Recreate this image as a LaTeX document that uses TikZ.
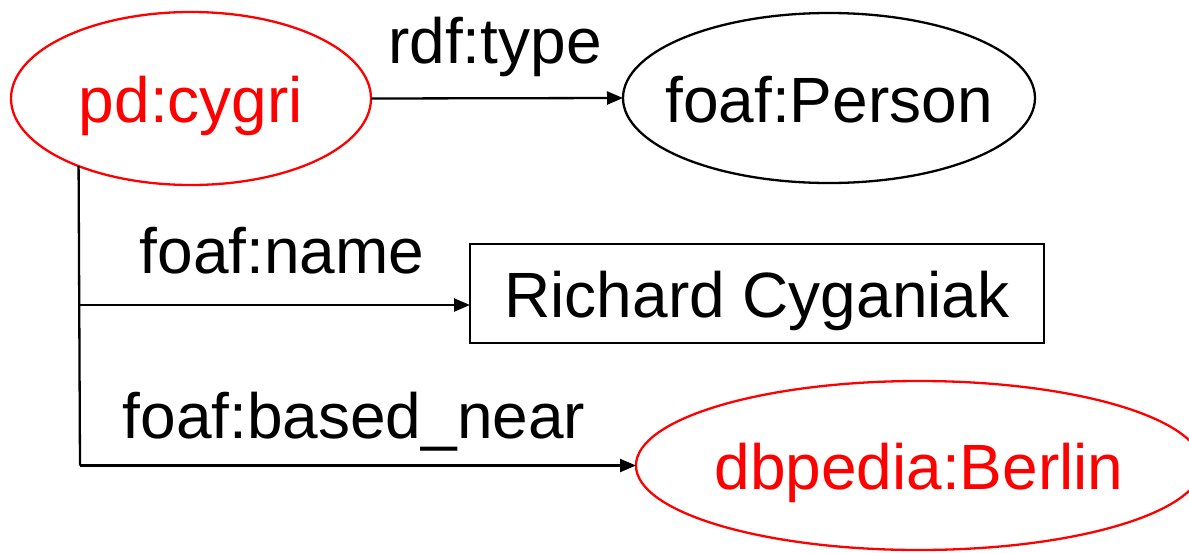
\documentclass[tikz,border=0pt]{standalone}
\usepackage{fontspec}
\setmainfont{Liberation Sans}
\usetikzlibrary{shapes.geometric,arrows.meta}
\definecolor{resred}{RGB}{255,0,0}
\begin{document}
\begin{tikzpicture}[x=1pt,y=-1pt,
  every node/.style={font=\fontsize{64}{70}\selectfont, inner sep=0pt, outer sep=0pt,
    text height=56pt, text depth=8pt},
  res/.style={ellipse, draw, line width=2.3pt},
  lit/.style={rectangle, draw, line width=2.3pt, minimum width=574pt, minimum height=99pt},
  prop/.style={anchor=base, text height=, text depth=},
  link/.style={line width=2.3pt, -{Triangle[length=16pt,width=13pt]}},
  trunk/.style={line width=2.3pt}]
  \useasboundingbox (0,0) rectangle (1189,552);
  \clip (0,0) rectangle (1189,552);

  % resources and literal
  \node[res, draw=resred, text=resred, minimum width=360pt, minimum height=173pt]
    (cygri) at (191,98.5) {\makebox[0pt]{pd:cygri}};
  \node[res, minimum width=412pt, minimum height=170pt]
    (person) at (829,98) {\makebox[0pt]{foaf:Person}};
  \node[lit] (name) at (757,293.5) {Richard Cyganiak};
  \node[res, draw=resred, text=resred, minimum width=566pt, minimum height=169pt]
    (berlin) at (919,465.5) {\makebox[0pt]{dbpedia:Berlin}};

  % property labels
  \node[prop] (ptype) at (495,63) {rdf:type};
  \node[prop] (pname) at (282,273) {foaf:name};
  \node[prop] (pnear) at (354,438) {foaf:based\_near};

  % connectors
  \draw[link] (cygri.east) -- (person.west);
  \coordinate (top) at (cygri.211.5);
  \coordinate (branch) at (80,305);
  \coordinate (bottom) at (80,465.5);
  \draw[trunk] (top) -- (bottom);
  \draw[link] (branch) -- (branch -| name.west);
  \draw[link] (bottom) -- (berlin.west);
\end{tikzpicture}
\end{document}
